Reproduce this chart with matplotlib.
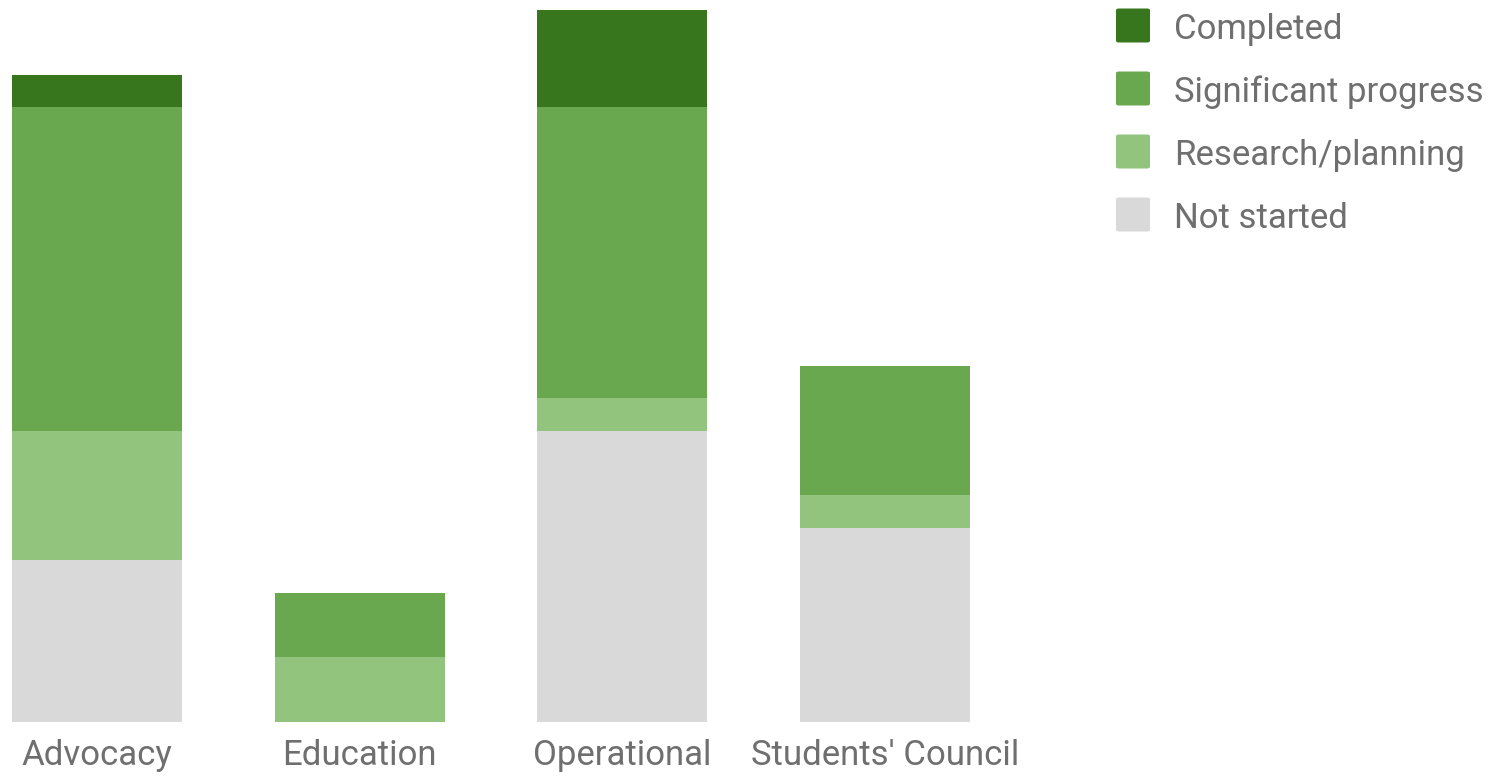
import numpy as np
import matplotlib.pyplot as plt
from matplotlib.patches import FancyBboxPatch

plt.rcParams['font.family'] = ['Roboto', 'DejaVu Sans']

categories = ['Advocacy', 'Education', 'Operational', "Students' Council"]
not_started = [5, 0, 9, 6]
research = [4, 2, 1, 1]
significant = [10, 2, 9, 4]
completed = [1, 0, 3, 0]

series = [
    ('Not started', not_started, '#d9d9d9'),
    ('Research/planning', research, '#93c47d'),
    ('Significant progress', significant, '#6aa84f'),
    ('Completed', completed, '#38761d'),
]

W, H = 1492, 777
fig = plt.figure(figsize=(W / 100, H / 100), dpi=100)
ax = fig.add_axes([12 / W, (H - 722) / H, (970 - 12) / W, (722 - 10) / H])

width = 0.647
x = np.arange(len(categories))
bottom = np.zeros(len(categories))
for name, vals, col in series:
    ax.bar(x, vals, width, bottom=bottom, color=col, label=name, linewidth=0)
    bottom += np.array(vals)

ax.set_xlim(-width / 2, len(categories) - 1 + width / 2)
ax.set_ylim(0, 22)
ax.set_xticks(x)
ax.set_xticklabels(categories, fontsize=25, color='#6f6f6f')
ax.tick_params(axis='x', length=0, pad=12)
ax.set_yticks([])
for s in ax.spines.values():
    s.set_visible(False)

# legend, drawn by hand: top entry first
for i, (name, vals, col) in enumerate(series[::-1]):
    yc = 25.5 + 63 * i
    sq = FancyBboxPatch((1116 / W, 1 - (yc + 17) / H), 34 / W, 34 / H,
                        boxstyle='round,pad=0,rounding_size=0.002',
                        transform=fig.transFigure, facecolor=col,
                        edgecolor='none')
    fig.add_artist(sq)
    fig.text(1174 / W, 1 - yc / H, name, fontsize=25, color='#6f6f6f',
             va='center_baseline', ha='left')

fig.savefig('out.png', dpi=100)
